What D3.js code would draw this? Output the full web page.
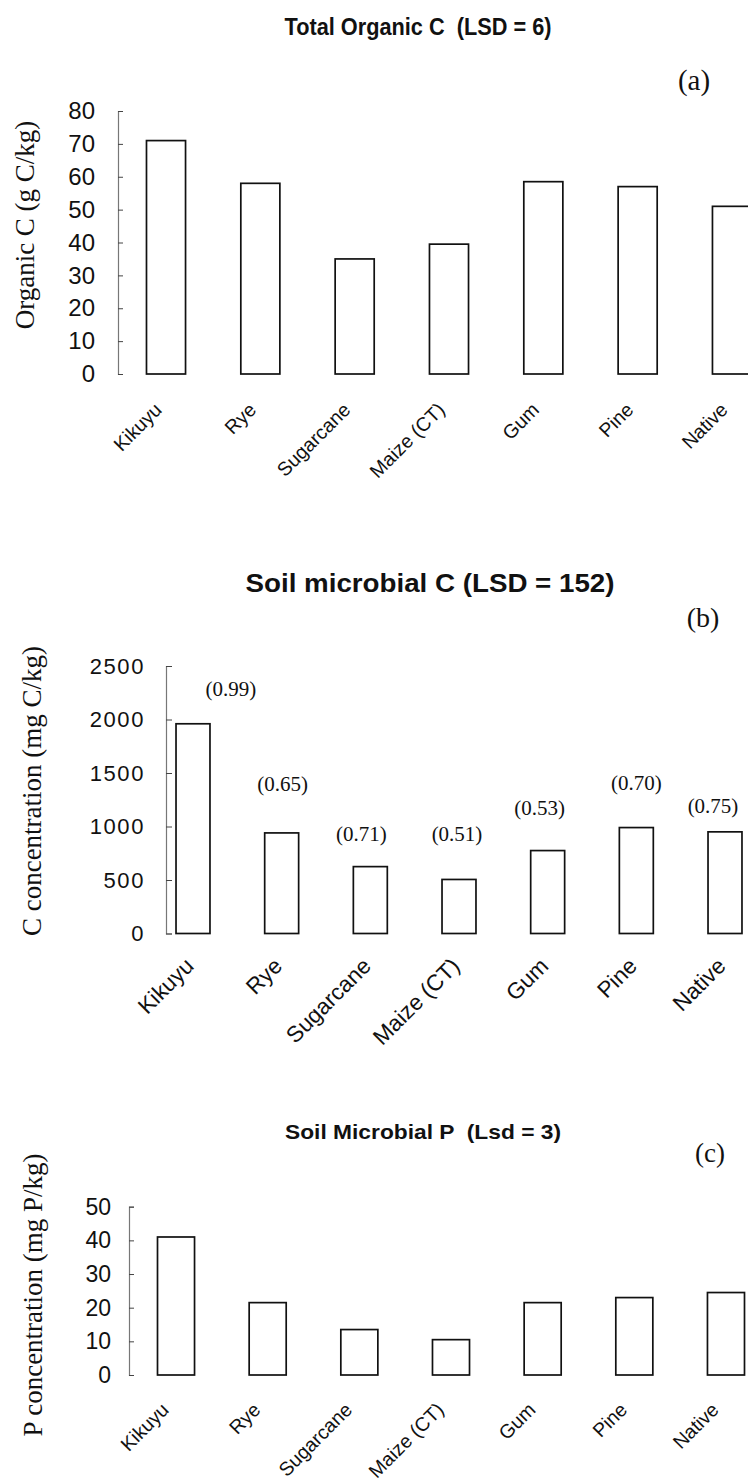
<!DOCTYPE html>
<html>
<head>
<meta charset="utf-8">
<script src="https://cdn.jsdelivr.net/npm/d3@7"></script>
<style>
  html, body { margin: 0; padding: 0; background: #fff; }
  svg { display: block; }
  text { white-space: pre; }
</style>
</head>
<body>
<svg id="fig" width="748" height="1481"></svg>
<script>
// Land uses compared in all three panels
const landUses = ["Kikuyu", "Rye", "Sugarcane", "Maize (CT)", "Gum", "Pine", "Native"];

// (a) total organic C, g C/kg
const organicC = [71, 58, 35, 39.5, 58.5, 57, 51];
const organicCTicks = [0, 10, 20, 30, 40, 50, 60, 70, 80];

// (b) soil microbial C, mg C/kg, with the bracketed ratio printed over each bar
const microbialC = [1960, 940, 625, 505, 775, 990, 950];
const microbialCNotes = ["(0.99)", "(0.65)", "(0.71)", "(0.51)", "(0.53)", "(0.70)", "(0.75)"];
const microbialCTicks = [0, 500, 1000, 1500, 2000, 2500];

// (c) soil microbial P, mg P/kg
const microbialP = [41, 21.5, 13.5, 10.5, 21.5, 23, 24.5];
const microbialPTicks = [0, 10, 20, 30, 40, 50];

const SANS = "'Liberation Sans', Arial, Helvetica, sans-serif";
const SERIF = "'Liberation Serif', 'Times New Roman', Times, serif";

const svg = d3.select("#fig");

// Per-panel layout
const panels = [
  {
    title: "Total Organic C  (LSD = 6)", titleX: 418, titleY: 35, titleSize: 23, titleLen: 267,
    tag: "(a)", tagX: 694, tagY: 90, tagSize: 29,
    yLabel: "Organic C (g C/kg)", yLabelX: 25, yLabelY: 225,
    values: organicC, ticks: organicCTicks, max: 80,
    axisX: 118, yTop: 111, yZero: 374,
    padIn: 0.586, padOut: 0.302, rangeEnd: 780,
    tickFont: 24, tickSpacing: 0, tickPad: 23, tickLen: 5,
    catFont: 19.5, catDx: -3, catDy: 37
  },
  {
    title: "Soil microbial C (LSD = 152)", titleX: 430, titleY: 592, titleSize: 25, titleLen: 369,
    tag: "(b)", tagX: 703, tagY: 627, tagSize: 28,
    yLabel: "C concentration (mg C/kg)", yLabelX: 32, yLabelY: 791,
    values: microbialC, ticks: microbialCTicks, max: 2500,
    axisX: 166, yTop: 666, yZero: 933.5,
    padIn: 0.617, padOut: 0.113, rangeEnd: 752,
    tickFont: 22, tickSpacing: 1.6, tickPad: 21, tickLen: 6,
    catFont: 22.5, catDx: 2, catDy: 34,
    notes: microbialCNotes,
    noteShift: [[38, -35], [1, -49], [-9, -33], [-2, -46], [-8, -43], [0, -45], [-12, -26]]
  },
  {
    title: "Soil Microbial P  (Lsd = 3)", titleX: 423, titleY: 1138.5, titleSize: 21, titleLen: 276,
    tag: "(c)", tagX: 710, tagY: 1162, tagSize: 27,
    yLabel: "P concentration (mg P/kg)", yLabelX: 33, yLabelY: 1295,
    values: microbialP, ticks: microbialPTicks, max: 50,
    axisX: 129, yTop: 1206.7, yZero: 1375,
    padIn: 0.596, padOut: 0.311, rangeEnd: 773,
    tickFont: 23, tickSpacing: 0, tickPad: 18, tickLen: 5,
    catFont: 19.5, catDx: -6, catDy: 36
  }
];

panels.forEach(p => {
  const g = svg.append("g");

  const x = d3.scaleBand()
    .domain(landUses)
    .range([p.axisX, p.rangeEnd])
    .paddingInner(p.padIn)
    .paddingOuter(p.padOut);

  const y = d3.scaleLinear()
    .domain([0, p.max])
    .range([p.yZero, p.yTop]);

  // Title and panel tag
  g.append("text")
    .attr("x", p.titleX).attr("y", p.titleY)
    .attr("text-anchor", "middle")
    .attr("font-family", SANS).attr("font-weight", "bold")
    .attr("font-size", p.titleSize)
    .attr("textLength", p.titleLen).attr("lengthAdjust", "spacingAndGlyphs")
    .attr("fill", "#111")
    .text(p.title);

  g.append("text")
    .attr("x", p.tagX).attr("y", p.tagY)
    .attr("text-anchor", "middle")
    .attr("font-family", SERIF).attr("font-size", p.tagSize)
    .attr("fill", "#111")
    .text(p.tag);

  // Y axis title
  g.append("text")
    .attr("transform", `translate(${p.yLabelX},${p.yLabelY}) rotate(-90)`)
    .attr("text-anchor", "middle")
    .attr("dy", "0.35em")
    .attr("font-family", SERIF).attr("font-size", 27)
    .attr("fill", "#111")
    .text(p.yLabel);

  // Y axis with inward ticks
  const axis = d3.axisLeft(y)
    .tickValues(p.ticks)
    .tickFormat(d3.format("d"))
    .tickSize(-p.tickLen)
    .tickSizeOuter(-p.tickLen)
    .tickPadding(p.tickPad);

  const ax = g.append("g")
    .attr("transform", `translate(${p.axisX},0)`)
    .call(axis);
  ax.select(".domain").attr("stroke", "#777").attr("stroke-width", 1.2);
  ax.selectAll(".tick line").attr("stroke", "#444").attr("stroke-width", 1);
  ax.selectAll(".tick text")
    .attr("font-family", SANS)
    .attr("font-size", p.tickFont)
    .attr("letter-spacing", p.tickSpacing)
    .attr("fill", "#111");

  // Bars
  g.append("g").selectAll("rect")
    .data(p.values)
    .join("rect")
    .attr("x", (d, i) => x(landUses[i]))
    .attr("y", d => y(d))
    .attr("width", x.bandwidth())
    .attr("height", d => y(0) - y(d))
    .attr("fill", "#fff")
    .attr("stroke", "#111")
    .attr("stroke-width", 1.7);

  // Category labels, rotated
  g.append("g").selectAll("text")
    .data(landUses)
    .join("text")
    .attr("transform", d => `translate(${x(d) + x.bandwidth() / 2 + p.catDx},${y(0) + p.catDy}) rotate(-45)`)
    .attr("text-anchor", "end")
    .attr("font-family", SANS)
    .attr("font-size", p.catFont)
    .attr("fill", "#111")
    .text(d => d);

  // Bracketed ratios above bars
  if (p.notes) {
    g.append("g").selectAll("text")
      .data(p.notes)
      .join("text")
      .attr("x", (d, i) => x(landUses[i]) + x.bandwidth() / 2 + p.noteShift[i][0])
      .attr("y", (d, i) => y(p.values[i]) + p.noteShift[i][1])
      .attr("dy", "0.35em")
      .attr("text-anchor", "middle")
      .attr("font-family", SERIF)
      .attr("font-size", 21)
      .attr("fill", "#111")
      .text(d => d);
  }
});
</script>
</body>
</html>
